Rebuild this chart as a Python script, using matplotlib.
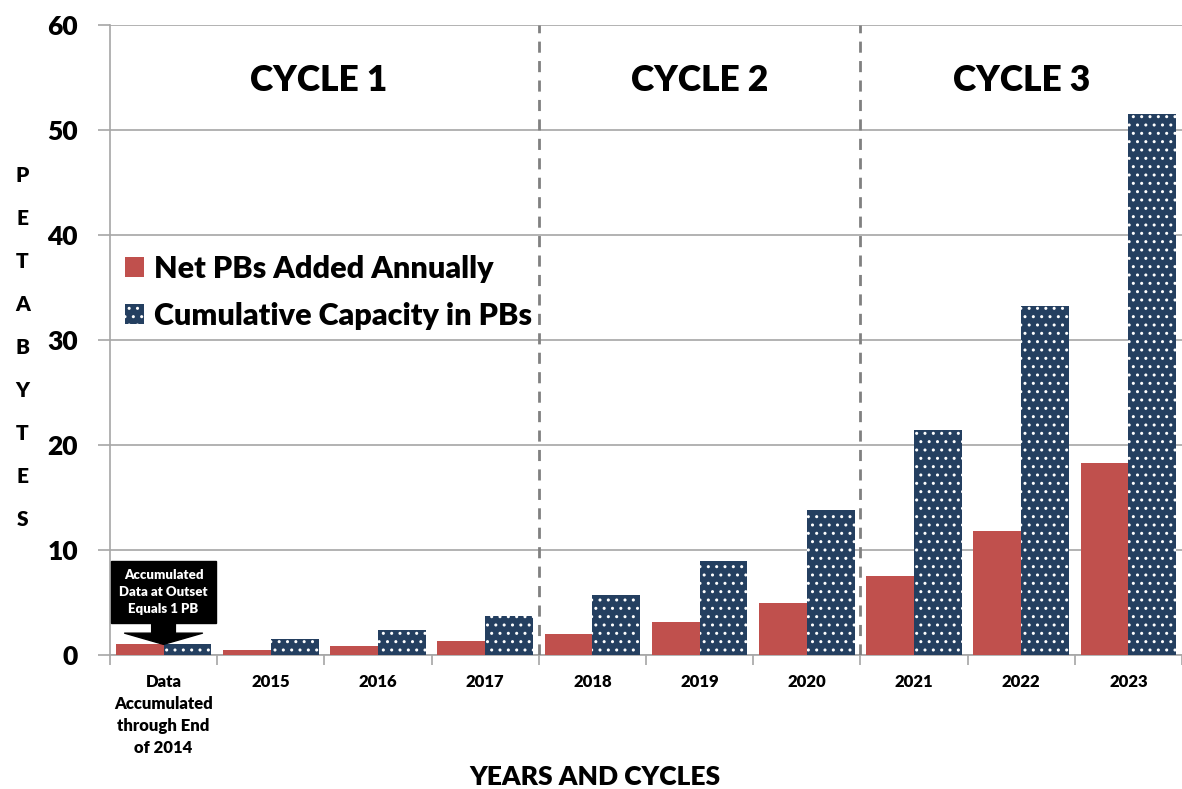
import numpy as np
import matplotlib.pyplot as plt
from matplotlib.patches import Patch

# data (petabytes)
categories = ['Data\nAccumulated\nthrough End\nof 2014', '2015', '2016', '2017',
              '2018', '2019', '2020', '2021', '2022', '2023']
net_added = [1.0, 0.5, 0.8, 1.3, 2.0, 3.1, 4.9, 7.5, 11.8, 18.3]
cumulative = [1.0, 1.5, 2.4, 3.7, 5.7, 8.9, 13.8, 21.4, 33.2, 51.5]
cycle_names = ['CYCLE 1', 'CYCLE 2', 'CYCLE 3']
cycle_start = [0, 4, 7]  # index of first category in each cycle

RED = '#C0504D'
NAVY = '#243F60'
GRAY = '#A6A6A6'
FONT = 'Lato'
WT = 'heavy'

plt.rcParams['hatch.color'] = 'white'
plt.rcParams['hatch.linewidth'] = 1.0

fig = plt.figure(figsize=(11.82, 7.89), dpi=100)
ax = fig.add_axes([0.093, 0.170, 0.907, 0.798])

x = np.arange(len(categories))
w = 0.446
ax.bar(x - w / 2, net_added, width=w, color=RED, zorder=3)
ax.bar(x + w / 2, cumulative, width=w, color=NAVY, hatch='..', zorder=3)

ax.set_xlim(-0.5, len(categories) - 0.5)
ax.set_ylim(0, 60)
ax.set_yticks(np.arange(0, 61, 10))
ax.yaxis.grid(True, color=GRAY, linewidth=1.2, zorder=0)
ax.set_axisbelow(True)

for s in ['top', 'right']:
    ax.spines[s].set_visible(False)
for s in ['left', 'bottom']:
    ax.spines[s].set_color(GRAY)
    ax.spines[s].set_linewidth(1.2)

# labels at category centres, tick marks at category boundaries
ax.set_xticks(x)
ax.set_xticklabels(categories, fontfamily=FONT, fontweight=WT, fontsize=12,
                   linespacing=1.45)
ax.set_xticks(np.arange(-0.5, len(categories)), minor=True)
ax.tick_params(axis='x', which='major', length=0, pad=14)
ax.tick_params(axis='x', which='minor', length=7, color=GRAY, width=1.2)
ax.tick_params(axis='y', length=9, color=GRAY, width=1.2, pad=14)
for lab in ax.get_yticklabels():
    lab.set_fontfamily(FONT)
    lab.set_fontweight(WT)
    lab.set_fontsize(19)

# cycle dividers and titles
bounds = cycle_start + [len(categories)]
for i, name in enumerate(cycle_names):
    lo, hi = bounds[i] - 0.5, bounds[i + 1] - 0.5
    if i > 0:
        ax.axvline(lo, color='#808080', linestyle=(0, (4, 3)), linewidth=2, zorder=4)
    ax.text((lo + hi) / 2 - (0.05 if i == 0 else 0), 54.7, name, ha='center',
            va='center', fontfamily=FONT, fontweight=WT, fontsize=25.5)

# callout on the first category
ax.annotate('Accumulated\nData at Outset\nEquals 1 PB',
            xy=(0, cumulative[0]), xytext=(0, 6.0), textcoords='data',
            ha='center', va='center', color='white', fontfamily=FONT,
            fontweight=WT, fontsize=9.5, linespacing=1.5,
            bbox=dict(boxstyle='square,pad=0.6', facecolor='black', edgecolor='black'),
            arrowprops=dict(arrowstyle='simple,head_length=0.85,head_width=5.9,tail_width=1.8',
                            color='black', shrinkA=0, shrinkB=0),
            zorder=5)

# legend
handles = [Patch(facecolor=RED, label='Net PBs Added Annually'),
           Patch(facecolor=NAVY, hatch='..', label='Cumulative Capacity in PBs')]
ax.legend(handles=handles, loc='upper left', bbox_to_anchor=(0.0, 0.66), frameon=False,
          prop=dict(family=FONT, weight=WT, size=22), handlelength=0.62,
          handleheight=0.62, handletextpad=0.33, labelspacing=0.62,
          borderaxespad=0, borderpad=0.5)

ax.set_xlabel('YEARS AND CYCLES', fontfamily=FONT, fontweight=WT, fontsize=19)
ax.xaxis.set_label_coords(0.452, -0.175)
fig.text(0.019, 0.56, '\n'.join('PETABYTES'), ha='center', va='center',
         fontfamily=FONT, fontweight=WT, fontsize=15, linespacing=2.5)

fig.savefig('out.png', dpi=100)
